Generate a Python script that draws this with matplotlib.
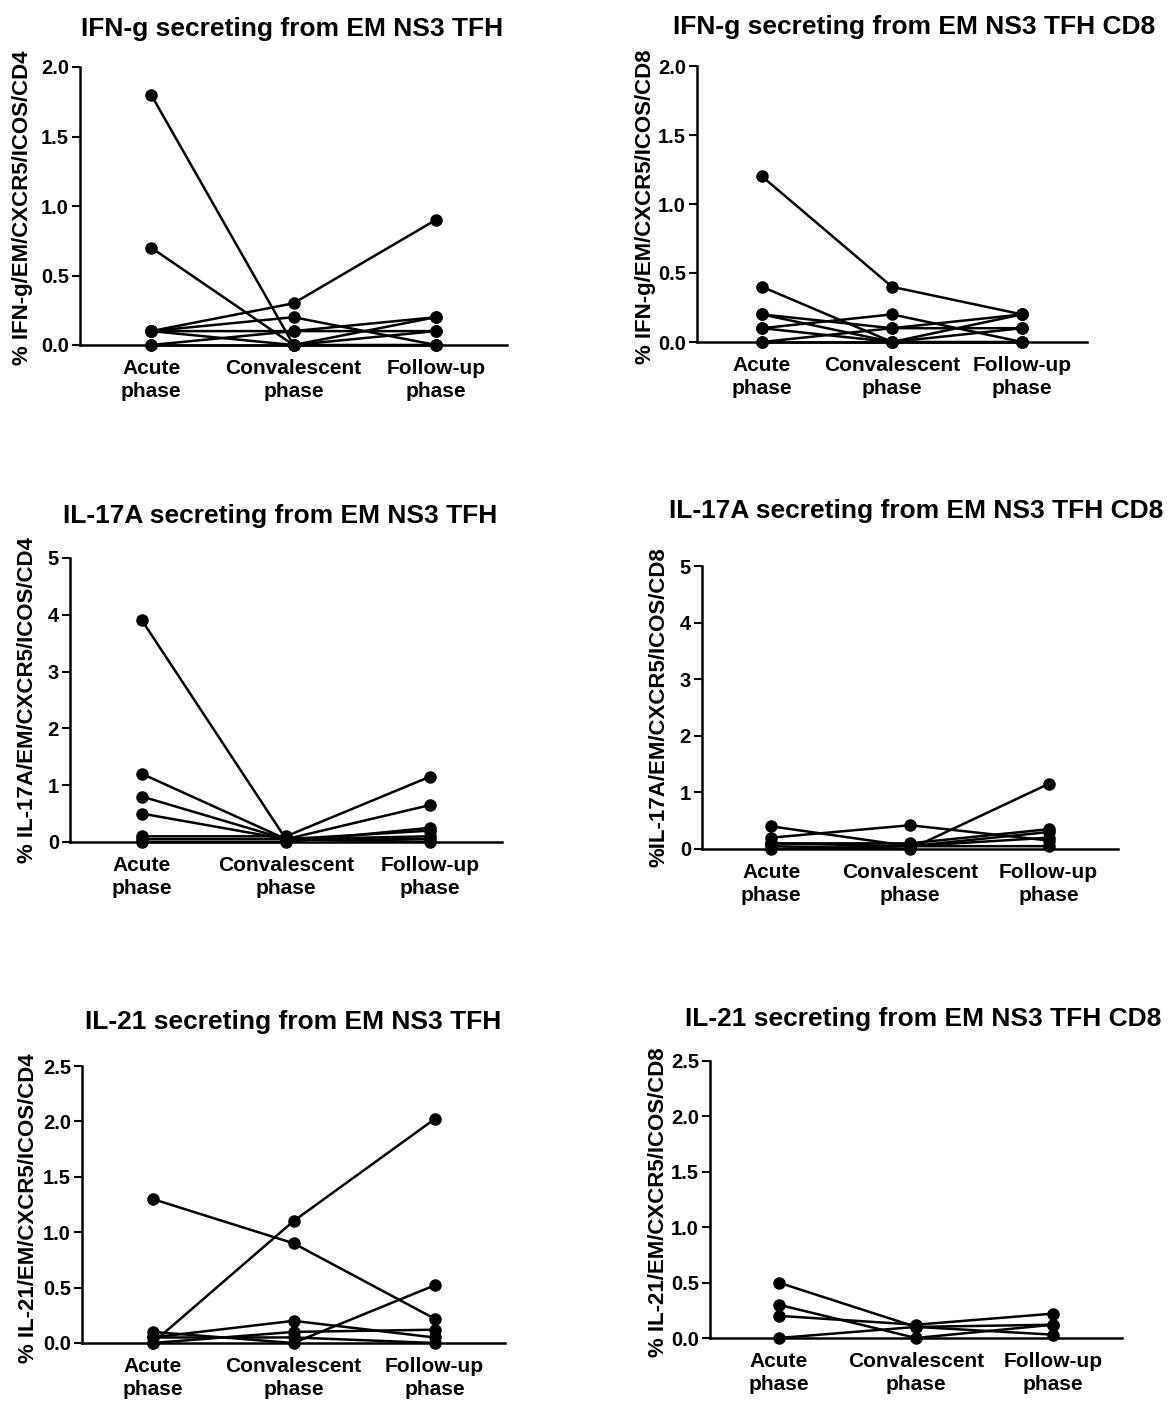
import matplotlib
matplotlib.use("Agg")
import matplotlib.pyplot as plt

plt.rcParams['font.family'] = ['Liberation Sans', 'DejaVu Sans']
plt.rcParams['font.weight'] = 'bold'

categories = ["Acute\nphase", "Convalescent\nphase", "Follow-up\nphase"]

# Panel 1: IFN-g CD4
ifng_cd4 = [
    [1.8, 0.0, 0.1],
    [0.7, 0.0, 0.0],
    [0.1, 0.3, 0.9],
    [0.1, 0.2, 0.0],
    [0.1, 0.1, 0.2],
    [0.0, 0.1, 0.1],
    [0.1, 0.0, 0.2],
    [0.0, 0.0, 0.0],
]
# Panel 2: IFN-g CD8
ifng_cd8 = [
    [1.2, 0.4, 0.2],
    [0.4, 0.0, 0.0],
    [0.2, 0.1, 0.2],
    [0.2, 0.0, 0.1],
    [0.1, 0.2, 0.0],
    [0.1, 0.0, 0.2],
    [0.0, 0.1, 0.1],
    [0.0, 0.0, 0.0],
]
# Panel 3: IL-17A CD4
il17_cd4 = [
    [3.9, 0.05, 0.1],
    [1.2, 0.05, 0.0],
    [0.8, 0.05, 0.2],
    [0.5, 0.05, 0.05],
    [0.1, 0.1, 1.15],
    [0.05, 0.05, 0.65],
    [0.0, 0.0, 0.25],
]
# Panel 4: IL-17A CD8
il17_cd8 = [
    [0.4, 0.05, 0.3],
    [0.2, 0.42, 0.15],
    [0.1, 0.1, 0.35],
    [0.05, 0.0, 1.15],
    [0.0, 0.05, 0.2],
    [0.1, 0.05, 0.05],
]
# Panel 5: IL-21 CD4
il21_cd4 = [
    [1.3, 0.9, 0.22],
    [0.0, 1.1, 2.02],
    [0.1, 0.0, 0.52],
    [0.05, 0.2, 0.05],
    [0.0, 0.1, 0.12],
    [0.05, 0.05, 0.0],
]
# Panel 6: IL-21 CD8
il21_cd8 = [
    [0.5, 0.1, 0.03],
    [0.3, 0.0, 0.12],
    [0.2, 0.12, 0.22],
    [0.0, 0.1, 0.12],
]

titles = [
    "IFN-g secreting from EM NS3 TFH",
    "IFN-g secreting from EM NS3 TFH CD8",
    "IL-17A secreting from EM NS3 TFH",
    "IL-17A secreting from EM NS3 TFH CD8",
    "IL-21 secreting from EM NS3 TFH",
    "IL-21 secreting from EM NS3 TFH CD8",
]
ylabels = [
    "% IFN-g/EM/CXCR5/ICOS/CD4",
    "% IFN-g/EM/CXCR5/ICOS/CD8",
    "% IL-17A/EM/CXCR5/ICOS/CD4",
    "%IL-17A/EM/CXCR5/ICOS/CD8",
    "% IL-21/EM/CXCR5/ICOS/CD4",
    "% IL-21/EM/CXCR5/ICOS/CD8",
]
yticks_list = [
    [0.0, 0.5, 1.0, 1.5, 2.0],
    [0.0, 0.5, 1.0, 1.5, 2.0],
    [0, 1, 2, 3, 4, 5],
    [0, 1, 2, 3, 4, 5],
    [0.0, 0.5, 1.0, 1.5, 2.0, 2.5],
    [0.0, 0.5, 1.0, 1.5, 2.0, 2.5],
]
ytick_fmt = ["{:.1f}", "{:.1f}", "{:d}", "{:d}", "{:.1f}", "{:.1f}"]
datasets = [ifng_cd4, ifng_cd8, il17_cd4, il17_cd8, il21_cd4, il21_cd8]

W, H = 1173, 1401
fig = plt.figure(figsize=(W / 100, H / 100), dpi=100)

# axes boxes in pixels: left, right, top, bottom
boxes = [
    (80, 507, 67, 345),
    (697, 1087, 66, 342),
    (70, 502, 558, 842),
    (702, 1118, 566, 849),
    (82, 505, 1066, 1343),
    (710, 1122, 1061, 1338),
]
title_pos = [(292, 29), (914, 27), (280, 516), (916, 511), (293, 1022), (923, 1019)]
ylabel_pos = [(23, 208), (646, 207), (28, 700), (659, 707), (29, 1208), (659, 1202)]

for i in range(6):
    l, r, t, b = boxes[i]
    ax = fig.add_axes([l / W, 1 - b / H, (r - l) / W, (b - t) / H])
    x = list(range(len(categories)))
    for s in datasets[i]:
        ax.plot(x, s, color='black', lw=1.8, marker='o', ms=8,
                markerfacecolor='black', markeredgecolor='black', clip_on=False)
    ax.set_xlim(-0.5, 2.5)
    yt = yticks_list[i]
    ax.set_ylim(yt[0], yt[-1])
    ax.set_yticks(yt)
    ax.set_yticklabels([ytick_fmt[i].format(v) for v in yt], fontsize=14.5, fontweight='bold')
    ax.set_xticks(x)
    ax.set_xticklabels(categories, fontsize=15, fontweight='bold', linespacing=1.25)
    ax.tick_params(axis='x', length=0, pad=10)
    ax.tick_params(axis='y', length=6, width=1.5, direction='out', pad=2)
    for sp in ['top', 'right']:
        ax.spines[sp].set_visible(False)
    for sp in ['left', 'bottom']:
        ax.spines[sp].set_linewidth(1.8)
    ax.patch.set_alpha(0)
    tx, ty = title_pos[i]
    fig.text(tx / W, 1 - ty / H, titles[i], ha='center', va='center',
             fontsize=19, fontweight='bold')
    lx, ly = ylabel_pos[i]
    fig.text(lx / W, 1 - ly / H, ylabels[i], ha='center', va='center',
             rotation=90, fontsize=16, fontweight='bold')

fig.savefig("out.png", dpi=100, facecolor='white')
